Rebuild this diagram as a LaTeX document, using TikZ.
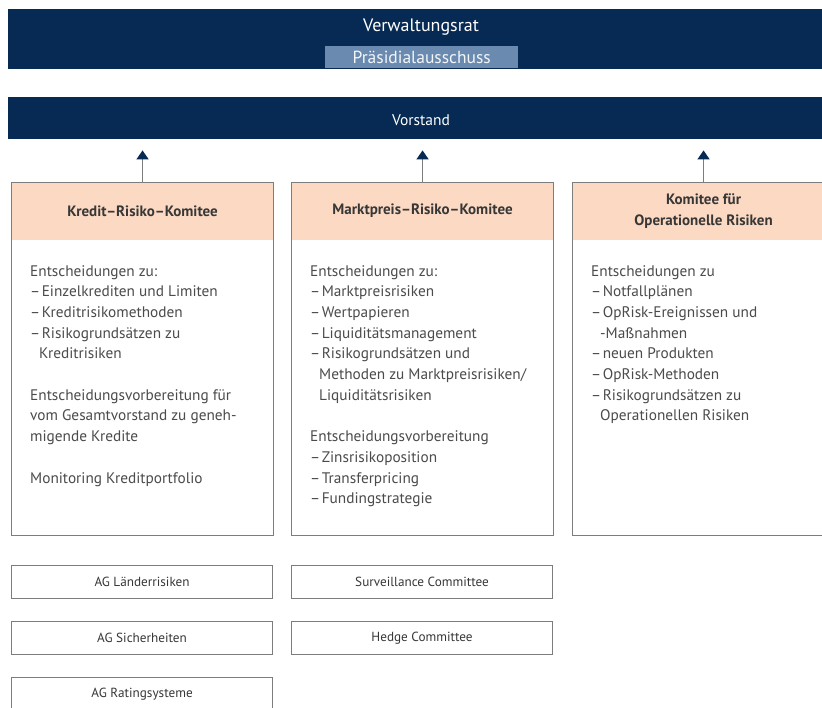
\documentclass[tikz,border=0pt]{standalone}
\usepackage{fontspec}
\setmainfont{PT Sans}
\usetikzlibrary{arrows.meta,calc}

\definecolor{navy}{RGB}{6,42,84}
\definecolor{steel}{RGB}{106,138,176}
\definecolor{peach}{RGB}{251,217,194}
\definecolor{frame}{RGB}{125,125,125}
\definecolor{ink}{RGB}{55,55,55}
\definecolor{bodyink}{RGB}{75,75,75}

\newcommand{\cont}{\hspace*{9pt}}
\newcommand{\dsh}{–\kern1.5pt}

\begin{document}
\begin{tikzpicture}[x=1pt,y=-1pt,
  bar/.style={fill=navy, draw=none, inner sep=0pt, anchor=north west},
  bartext/.style={text=white, inner sep=0pt},
  committee/.style={draw=frame, line width=1.1pt, fill=white, anchor=north west,
    minimum width=262pt, minimum height=353pt, inner sep=0pt,
    path picture={\fill[peach] (path picture bounding box.north west)
      rectangle ([yshift=-57pt]path picture bounding box.north east);}},
  headtxt/.style={text=ink, align=center, inner sep=0pt,
    font=\fontsize{15}{21}\selectfont\bfseries},
  bodytxt/.style={text=bodyink, align=left, anchor=north west, inner sep=0pt,
    font=\fontsize{15.3}{20.7}\selectfont},
  small/.style={draw=frame, line width=1.1pt, anchor=north west, fill=white,
    minimum width=261pt, minimum height=33pt, inner sep=0pt, text=ink,
    font=\fontsize{13.2}{15}\selectfont},
  conn/.style={draw=frame, line width=1.4pt, shorten >=11pt,
    -{Triangle[width=12pt,length=9pt,color=navy]}}
]
\useasboundingbox (0,0) rectangle (822,708);
\clip (0,0) rectangle (822,708);
\fill[white] (0,0) rectangle (822,708);

% supervisory board with its presidential committee
\node[bar, minimum width=830pt, minimum height=60pt] (vr) at (8,9) {};
\node[bartext, font=\fontsize{18}{20}\selectfont] (vrt) at (421,27) {Verwaltungsrat};
\node[fill=steel, minimum width=193pt, minimum height=22pt, inner sep=0pt,
      anchor=north west, text=white!92!steel, font=\fontsize{17.5}{19}\selectfont]
      (pa) at (325,46) {Präsidialausschuss};

% management board
\node[bar, minimum width=830pt, minimum height=42pt] (vs) at (8,97) {};
\node[bartext, font=\fontsize{15.5}{17}\selectfont] (vst) at (421,120) {Vorstand};

% risk committees
\node[committee] (k1) at (11,182) {};
\node[committee] (k2) at (291,182) {};
\node[committee] (k3) at (572,182) {};

\node[headtxt] (k1h) at ([yshift=-29pt]k1.north) {Kredit–Risiko–Komitee};
\node[headtxt] (k2h) at ([yshift=-29pt]k2.north) {Marktpreis–Risiko–Komitee};
\node[headtxt] (k3h) at ([yshift=-29pt]k3.north) {Komitee für\\Operationelle Risiken};

\node[bodytxt] (k1b) at ([xshift=19pt,yshift=-83pt]k1.north west) {%
Entscheidungen zu:\\
\dsh Einzelkrediten und Limiten\\
\dsh Kreditrisikomethoden\\
\dsh Risikogrundsätzen zu\\
\cont Kreditrisiken\\[20.7pt]
Entscheidungsvorbereitung für\\
vom Gesamtvorstand zu geneh-\\
migende Kredite\\[20.7pt]
Monitoring Kreditportfolio};

\node[bodytxt] (k2b) at ([xshift=19pt,yshift=-83pt]k2.north west) {%
Entscheidungen zu:\\
\dsh Marktpreisrisiken\\
\dsh Wertpapieren\\
\dsh Liquiditätsmanagement\\
\dsh Risikogrundsätzen und\\
\cont Methoden zu Marktpreisrisiken/\\
\cont Liquiditätsrisiken\\[20.7pt]
Entscheidungsvorbereitung\\
\dsh Zinsrisikoposition\\
\dsh Transferpricing\\
\dsh Fundingstrategie};

\node[bodytxt] (k3b) at ([xshift=19pt,yshift=-83pt]k3.north west) {%
Entscheidungen zu\\
\dsh Notfallplänen\\
\dsh OpRisk-Ereignissen und\\
\cont -Maßnahmen\\
\dsh neuen Produkten\\
\dsh OpRisk-Methoden\\
\dsh Risikogrundsätzen zu\\
\cont Operationellen Risiken};

% reporting lines to the management board
\draw[conn] (k1.north) -- (k1.north |- vs.south);
\draw[conn] (k2.north) -- (k2.north |- vs.south);
\draw[conn] (k3.north) -- (k3.north |- vs.south);

% working groups and sub-committees
\node[small] (ag1) at (11,565) {AG Länderrisiken};
\node[small] (ag2) at (11,621) {AG Sicherheiten};
\node[small] (ag3) at (11,677) {AG Ratingsysteme};
\node[small] (sc)  at (291,565) {Surveillance Committee};
\node[small] (hc)  at (291,621) {Hedge Committee};
\end{tikzpicture}
\end{document}
